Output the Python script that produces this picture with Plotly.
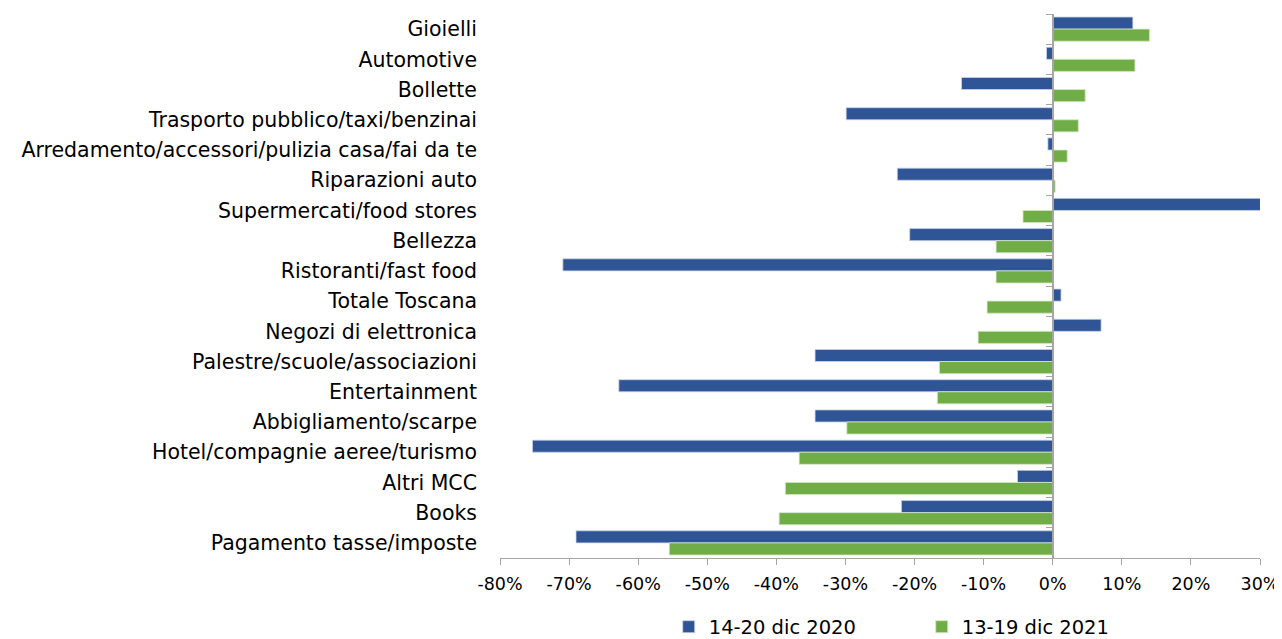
import plotly.graph_objects as go

categories = [
    "Gioielli", "Automotive", "Bollette", "Trasporto pubblico/taxi/benzinai",
    "Arredamento/accessori/pulizia casa/fai da te", "Riparazioni auto",
    "Supermercati/food stores", "Bellezza", "Ristoranti/fast food",
    "Totale Toscana", "Negozi di elettronica", "Palestre/scuole/associazioni",
    "Entertainment", "Abbigliamento/scarpe", "Hotel/compagnie aeree/turismo",
    "Altri MCC", "Books", "Pagamento tasse/imposte",
]
series_2020_name = "14-20 dic 2020"
series_2021_name = "13-19 dic 2021"
values_2020 = [11.6, -0.9, -13.2, -29.9, -0.7, -22.5, 30.5, -20.7, -70.9,
               1.2, 7.0, -34.4, -62.8, -34.4, -75.3, -5.1, -21.9, -69.0]
values_2021 = [14.0, 11.9, 4.7, 3.7, 2.1, 0.35, -4.3, -8.2, -8.2,
               -9.5, -10.8, -16.4, -16.7, -29.8, -36.7, -38.7, -39.6, -55.5]
tick_vals = [-80, -70, -60, -50, -40, -30, -20, -10, 0, 10, 20, 30]
tick_text = [f"{v}%" for v in tick_vals]

BLUE = "#2F5597"
GREEN = "#70AD47"
FONT = "DejaVu Sans"
AXIS_GREY = "#a6a6a6"

# the page body has an 8px default margin, so the figure is sized to fit the window
FIG_W, FIG_H = 1274, 631

fig = go.Figure()
fig.add_trace(go.Bar(y=categories, x=values_2020, orientation="h", name=series_2020_name,
                     marker=dict(color=BLUE, line=dict(color="#c9d3e6", width=0.8))))
fig.add_trace(go.Bar(y=categories, x=values_2021, orientation="h", name=series_2021_name,
                     marker=dict(color=GREEN, line=dict(color="#d5e6c8", width=0.8))))
# invisible helper trace so the zero-position category axis (with boundary ticks) is drawn
fig.add_trace(go.Scatter(y=categories, x=[0] * len(categories), yaxis="y2", mode="markers",
                         marker=dict(opacity=0, size=1), showlegend=False, hoverinfo="skip"))

xmin, xmax = -80, 30
zero_pos = (0 - xmin) / (xmax - xmin)
n = len(categories)
y_range = [n - 0.5, -0.5]

fig.update_layout(
    width=FIG_W, height=FIG_H,
    margin=dict(l=492, r=22, t=6, b=81),
    paper_bgcolor="white", plot_bgcolor="white",
    barmode="group", bargap=0.2, bargroupgap=0.0,
    font=dict(family=FONT, size=20, color="#000000"),
    xaxis=dict(range=[xmin, xmax], tickvals=tick_vals, ticktext=tick_text,
               showgrid=False, zeroline=False, showline=True, linecolor=AXIS_GREY,
               linewidth=1, ticks="outside", ticklen=6, tickcolor=AXIS_GREY,
               ticklabelstandoff=4, automargin=False,
               tickfont=dict(size=17.5, family=FONT)),
    yaxis=dict(type="category", categoryorder="array", categoryarray=categories,
               range=y_range, autorange=False, showgrid=False, zeroline=False,
               showline=False, ticks="", ticklabelstandoff=22, automargin=False,
               tickfont=dict(size=20.5, family=FONT)),
    yaxis2=dict(type="category", categoryorder="array", categoryarray=categories,
                matches="y", overlaying="y", anchor="free", position=zero_pos,
                side="left", showticklabels=False, showgrid=False, zeroline=False,
                showline=True, linecolor=AXIS_GREY, linewidth=1.5, automargin=False,
                ticks="outside", tickson="boundaries", ticklen=6, tickcolor=AXIS_GREY),
    legend=dict(orientation="h", x=0.222, xanchor="left",
                yref="container", y=(FIG_H - 619) / FIG_H, yanchor="middle",
                font=dict(size=19.5, family=FONT), itemwidth=30, tracegroupgap=0,
                entrywidthmode="pixels", entrywidth=208),
    showlegend=True,
)

fig.write_html("out.html")
